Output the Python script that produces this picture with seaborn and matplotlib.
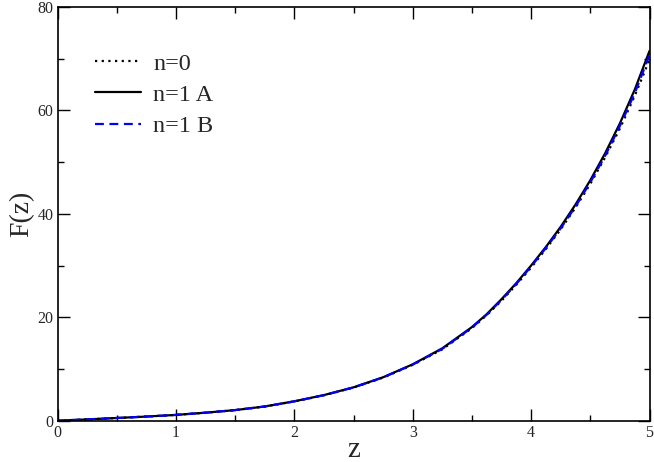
import numpy as np
import pandas as pd
import matplotlib
matplotlib.use("Agg")
import matplotlib.pyplot as plt
import seaborn as sns
from matplotlib.ticker import MultipleLocator

# valeurs
z = [0.0, 0.25, 0.5, 0.75, 1.0, 1.25, 1.5, 1.75, 2.0, 2.25, 2.5,
     2.75, 3.0, 3.25, 3.5, 3.625, 3.75, 3.875, 4.0, 4.125, 4.25,
     4.375, 4.5, 4.625, 4.75, 4.875, 5.0]
F_n0 = [0.0, 0.25, 0.52, 0.80, 1.12, 1.54, 2.04, 2.74, 3.73, 4.92, 6.40,
        8.33, 10.8, 13.8, 17.9, 20.4, 23.2, 26.3, 29.6, 33.2, 37.0,
        41.2, 45.8, 50.9, 56.5, 62.8, 69.8]
F_n1A = [0.0, 0.25, 0.52, 0.80, 1.12, 1.55, 2.05, 2.75, 3.75, 4.95, 6.45,
         8.40, 10.9, 14.0, 18.1, 20.6, 23.5, 26.6, 30.0, 33.6, 37.5,
         41.8, 46.5, 51.7, 57.5, 64.0, 71.5]
F_n1B = [0.0, 0.25, 0.52, 0.80, 1.12, 1.55, 2.05, 2.75, 3.74, 4.94, 6.43,
         8.37, 10.85, 13.9, 18.0, 20.5, 23.35, 26.45, 29.8, 33.4, 37.2,
         41.4, 46.1, 51.2, 57.0, 63.3, 70.7]

noms = ["n=0", "n=1 A", "n=1 B"]

df = pd.DataFrame({
    "z": z * 3,
    "F": F_n0 + F_n1A + F_n1B,
    "courbe": [noms[0]] * len(z) + [noms[1]] * len(z) + [noms[2]] * len(z),
})

sns.set_style("ticks")
plt.rcParams["font.family"] = ["Liberation Serif", "DejaVu Serif"]

fig = plt.figure(figsize=(6.54, 4.62), dpi=100)
ax = fig.add_axes([57.5 / 654, 41.3 / 462, 592 / 654, 413.7 / 462])

styles = {"n=0": (0, (1, 2)), "n=1 A": "-", "n=1 B": (0, (4, 2.5))}
couleurs = {"n=0": "black", "n=1 A": "black", "n=1 B": "#0000ff"}
for nom in noms:
    sub = df[df["courbe"] == nom]
    sns.lineplot(data=sub, x="z", y="F", ax=ax, color=couleurs[nom],
                 linestyle=styles[nom], linewidth=1.6, label=nom)

ax.set_xlim(0, 5)
ax.set_ylim(0, 80)
ax.xaxis.set_major_locator(MultipleLocator(1))
ax.xaxis.set_minor_locator(MultipleLocator(0.5))
ax.yaxis.set_major_locator(MultipleLocator(20))
ax.yaxis.set_minor_locator(MultipleLocator(10))
ax.tick_params(which="both", direction="in", top=True, right=True,
               labelsize=11.5, width=1, color="black", pad=3)
ax.tick_params(which="major", length=8.5)
ax.tick_params(which="minor", length=4.3)
for sp in ax.spines.values():
    sp.set_linewidth(1.2)
    sp.set_color("black")

ax.set_xlabel("z", fontsize=21, labelpad=-3)
ax.set_ylabel("F(z)", fontsize=20, labelpad=2)

ax.legend(loc="upper left", bbox_to_anchor=(0.063, 0.89), frameon=False,
          fontsize=17.5, handlelength=1.9, handletextpad=0.5,
          labelspacing=0.38, borderaxespad=0, borderpad=0)

fig.savefig("out.png", dpi=100)
